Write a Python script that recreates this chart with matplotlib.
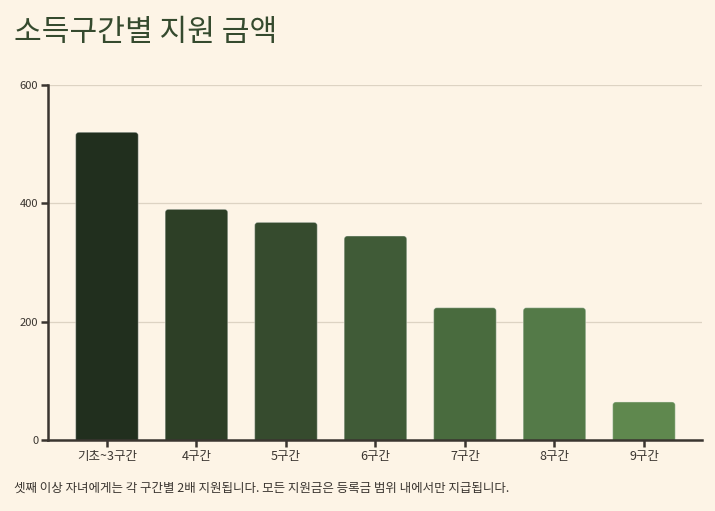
import matplotlib
matplotlib.use("Agg")
import matplotlib.pyplot as plt
from matplotlib.patches import FancyBboxPatch

plt.rcParams['font.family'] = ['Noto Sans CJK KR', 'DejaVu Sans']

categories = ['기초~3구간', '4구간', '5구간', '6구간', '7구간', '8구간', '9구간']
amounts = [520, 390, 368, 345, 224, 224, 65]
colors = ['#212f1e', '#2d3f26', '#364b2e', '#405b37', '#496b3e', '#547a48', '#5f884e']
yticks = [0, 200, 400, 600]

title = '소득구간별 지원 금액'
note = '셋째 이상 자녀에게는 각 구간별 2배 지원됩니다. 모든 지원금은 등록금 범위 내에서만 지급됩니다.'

bg = '#fdf4e6'
ink = '#3a3530'

fig = plt.figure(figsize=(7.15, 5.11), dpi=100, facecolor=bg)
ax = fig.add_axes([0.067, 0.138, 0.915, 0.696], facecolor=bg)

x = list(range(len(categories)))
bars = ax.bar(x, amounts, width=0.70, color=colors)

# swap the plain rectangles for ones with rounded top corners
for rect, c in zip(bars, colors):
    rect.set_visible(False)
    p = FancyBboxPatch((rect.get_x(), -20), rect.get_width(), rect.get_height() + 20,
                       boxstyle='round,pad=0,rounding_size=0.035', mutation_aspect=150,
                       facecolor=c, edgecolor=(1, 1, 1, 0.35), linewidth=0.8, zorder=3)
    ax.add_patch(p)

ax.set_xlim(-0.66, 6.65)
ax.set_ylim(0, 600)
ax.set_yticks(yticks)
ax.set_xticks(x)
ax.set_xticklabels(categories)

ax.grid(axis='y', color='#ddd3c3', linewidth=0.9, zorder=0)
ax.set_axisbelow(True)
for s in ['top', 'right']:
    ax.spines[s].set_visible(False)
for s in ['left', 'bottom']:
    ax.spines[s].set_color(ink)
    ax.spines[s].set_linewidth(1.8)
    ax.spines[s].set_zorder(4)
ax.tick_params(axis='both', colors=ink, length=5, width=1.8, labelsize=8, pad=2)
ax.tick_params(axis='x', labelsize=9)

fig.text(0.02, 0.937, title, fontsize=21.7, color='#354a2e', ha='left', va='center')
fig.text(0.02, 0.045, note, fontsize=9, color=ink, ha='left', va='center')

fig.savefig('out.png', dpi=100, facecolor=bg)
